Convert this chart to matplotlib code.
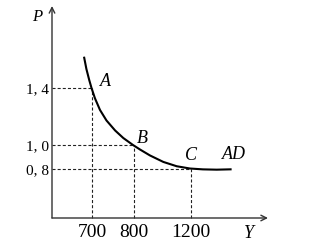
import numpy as np
import matplotlib
matplotlib.use("Agg")
import matplotlib.pyplot as plt

# ---- data (read from the schematic) ----
point_names = ["A", "B", "C"]
point_y = [700, 800, 1200]          # output Y
point_p = [1.4, 1.0, 0.8]           # price level P
x_tick_labels = ["700", "800", "1200"]
y_tick_labels = ["1, 4", "1, 0", "0, 8"]
curve_label = "AD"
# AD curve
curve_y = [680, 686, 693, 699, 707, 719, 734.5, 755, 774.5, 797.6, 842, 912, 1005.6,
           1099.6, 1193, 1262, 1333.5, 1411]
curve_p = [1.629, 1.539, 1.459, 1.398, 1.328, 1.246, 1.172, 1.102, 1.049, 1.0, 0.9625,
           0.913, 0.859, 0.823, 0.804, 0.794, 0.789, 0.795]

# ---- schematic (non-linear) scales ----
xk_v = [600, 700, 800, 1200, 1600]
xk_p = [0, 40, 82, 139, 216]
yk_v = [0.0, 0.8, 1.0, 1.4, 2.0]
yk_p = [0, 49, 73, 130, 212]

def fx(v):
    return np.interp(v, xk_v, xk_p)
def ifx(p):
    return np.interp(p, xk_p, xk_v)
def fy(v):
    return np.interp(v, yk_v, yk_p)
def ify(p):
    return np.interp(p, yk_p, yk_v)

plt.rcParams['font.family'] = ['Liberation Serif', 'DejaVu Serif']
plt.rcParams['lines.scale_dashes'] = False

W, H = 331, 246
fig = plt.figure(figsize=(W / 100, H / 100), dpi=100)
x0, y0, x1, y1 = 52, 218, 268, 6
ax = fig.add_axes([x0 / W, (H - y0) / H, (x1 - x0) / W, (y0 - y1) / H])
ax.set_xscale('function', functions=(fx, ifx))
ax.set_yscale('function', functions=(fy, ify))
ax.set_xlim(600, 1600)
ax.set_ylim(0, 2.0)
for s in ax.spines.values():
    s.set_visible(False)
ax.patch.set_alpha(0)

ax.set_xticks(point_y)
ax.set_xticklabels(x_tick_labels, fontsize=14)
ax.set_yticks(point_p)
ax.set_yticklabels(y_tick_labels, fontsize=11)
for lab in ax.get_yticklabels():
    lab.set_verticalalignment('center_baseline')
ax.tick_params(axis='x', length=0, pad=4.5)
ax.tick_params(axis='y', length=0, pad=2.5)
ax.minorticks_off()

# axes with arrows
axc = '#333333'
ax.annotate('', xy=(0, 1.0), xytext=(0, 0), xycoords='axes fraction',
            arrowprops=dict(arrowstyle='->', lw=1.0, color=axc, mutation_scale=10,
                            shrinkA=0, shrinkB=0))
ax.annotate('', xy=(1.0, 0), xytext=(0, 0), xycoords='axes fraction',
            arrowprops=dict(arrowstyle='->', lw=1.0, color=axc, mutation_scale=10,
                            shrinkA=0, shrinkB=0))

# dashed guides
for xv, pv in zip(point_y, point_p):
    ax.plot([600, xv], [pv, pv], color='#222222', lw=0.8, dashes=(2.2, 1.5),
            clip_on=False)
    ax.plot([xv, xv], [0, pv], color='#222222', lw=0.8, dashes=(2.2, 1.5),
            clip_on=False)

# AD curve
ax.plot(curve_y, curve_p, color='black', lw=1.5, solid_capstyle='butt',
        solid_joinstyle='round')

# point labels
offsets = [(10, 4.5), (6, 5), (0, 10)]
for name, xv, pv, off in zip(point_names, point_y, point_p, offsets):
    ax.annotate(name, (xv, pv), xytext=off, textcoords='offset points',
                ha='center', va='center', fontsize=13, style='italic')
ax.annotate(curve_label, (curve_y[-1], curve_p[-1]), xytext=(1.5, 11),
            textcoords='offset points', ha='center', va='center',
            fontsize=13, style='italic')

# axis names
ax.annotate('P', (0, 1), xycoords='axes fraction', xytext=(-11, -8),
            textcoords='offset points', ha='center', va='center',
            fontsize=12, style='italic')
ax.annotate('Y', (1, 0), xycoords='axes fraction', xytext=(-14, -11),
            textcoords='offset points', ha='center', va='center',
            fontsize=13, style='italic')

fig.savefig('out.png', dpi=100)
